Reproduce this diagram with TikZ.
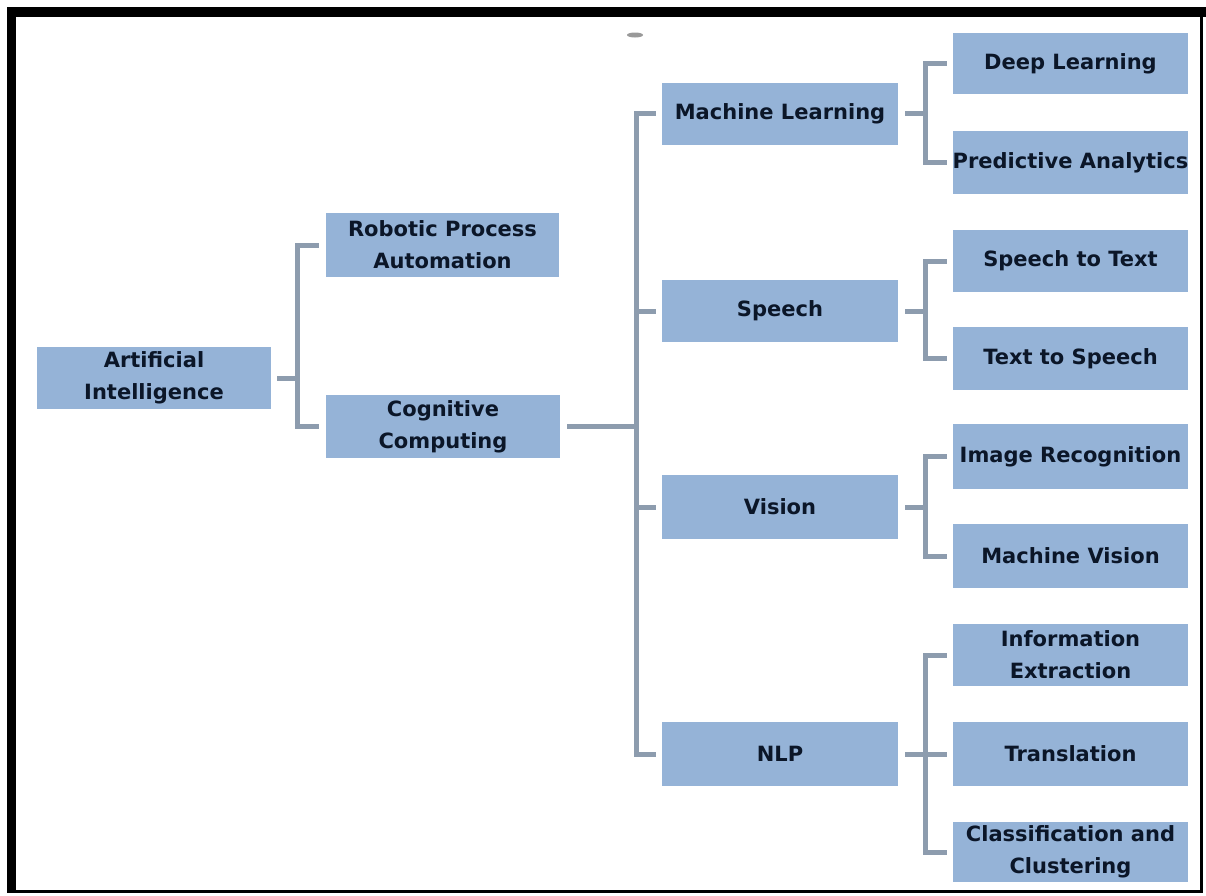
\documentclass[tikz,border=0pt]{standalone}
\usepackage{fontspec}
\setmainfont{DejaVu Sans}
\definecolor{boxfill}{HTML}{95B3D7}
\definecolor{connc}{HTML}{8D9CAE}
\definecolor{txtc}{HTML}{0B1628}
\tikzset{
  tbox/.style={fill=boxfill, draw=none, inner sep=0pt, minimum width=235pt, minimum height=63pt,
    text=txtc, align=center, font=\bfseries\fontsize{21}{32}\selectfont},
  conn/.style={draw=connc, line width=5pt, line join=miter, line cap=butt},
  frameb/.style={fill=black}
}
\begin{document}
\begin{tikzpicture}[x=1pt,y=-1pt]
\useasboundingbox (0,0) rectangle (1206,895);
\fill[white] (0,0) rectangle (1206,895);
% frame
\fill[frameb] (7,7) rectangle (1206,17);
\fill[frameb] (7,7) rectangle (16,893);
\fill[frameb] (1200,7) rectangle (1203,893);
\fill[frameb] (7,890) rectangle (1203,893);
\fill[gray!80] (635,35) ellipse (8 and 2.5);

% level 0
\node[tbox, minimum width=234pt, minimum height=62pt] (ai) at (154,378) {Artificial\\Intelligence};
% level 1
\node[tbox, minimum width=233pt, minimum height=64pt] (rpa) at (442.5,245) {Robotic Process\\Automation};
\node[tbox, minimum width=234pt, minimum height=63pt] (cog) at (443,426.5) {Cognitive\\Computing};
% level 2
\node[tbox, minimum width=236pt, minimum height=62pt] (ml) at (780,113.5) {Machine Learning};
\node[tbox, minimum width=236pt, minimum height=62pt] (sp) at (780,311) {Speech};
\node[tbox, minimum width=236pt, minimum height=64pt] (vi) at (780,507) {Vision};
\node[tbox, minimum width=236pt, minimum height=64pt] (nlp) at (780,754) {NLP};
% level 3
\node[tbox, minimum height=61pt] (dl) at (1070.5,63.5) {Deep Learning};
\node[tbox] (pa) at (1070.5,162.5) {Predictive Analytics};
\node[tbox, minimum height=62pt] (stt) at (1070.5,261) {Speech to Text};
\node[tbox] (tts) at (1070.5,358.5) {Text to Speech};
\node[tbox, minimum height=65pt] (ir) at (1070.5,456.5) {Image Recognition};
\node[tbox, minimum height=64pt] (mv) at (1070.5,556) {Machine Vision};
\node[tbox, minimum height=62pt] (ie) at (1070.5,655) {Information\\Extraction};
\node[tbox, minimum height=64pt] (tr) at (1070.5,754) {Translation};
\node[tbox, minimum height=60pt] (cc) at (1070.5,852) {Classification and\\Clustering};

% connectors level 0 -> 1
\coordinate (j1) at ([xshift=26pt]ai.east);
\draw[conn] ([xshift=6pt]ai.east) -- (j1);
\draw[conn] ([xshift=-7pt]rpa.west) -| (j1) |- ([xshift=-7pt]cog.west);
% level 1 -> 2
\coordinate (j2) at ([xshift=76pt]cog.east);
\draw[conn] ([xshift=7pt]cog.east) -- (j2);
\draw[conn] ([xshift=-6pt]ml.west) -| (j2) |- ([xshift=-6pt]nlp.west);
\draw[conn] ([xshift=-6pt]sp.west) -- (j2 |- sp.west);
\draw[conn] ([xshift=-6pt]vi.west) -- (j2 |- vi.west);
% level 2 -> 3
\coordinate (jml) at ([xshift=27pt]ml.east);
\draw[conn] ([xshift=7pt]ml.east) -- (jml);
\draw[conn] ([xshift=-6pt]dl.west) -| (jml) |- ([xshift=-6pt]pa.west);
\coordinate (jsp) at ([xshift=27pt]sp.east);
\draw[conn] ([xshift=7pt]sp.east) -- (jsp);
\draw[conn] ([xshift=-6pt]stt.west) -| (jsp) |- ([xshift=-6pt]tts.west);
\coordinate (jvi) at ([xshift=27pt]vi.east);
\draw[conn] ([xshift=7pt]vi.east) -- (jvi);
\draw[conn] ([xshift=-6pt]ir.west) -| (jvi) |- ([xshift=-6pt]mv.west);
\coordinate (jnlp) at ([xshift=27pt]nlp.east);
\draw[conn] ([xshift=7pt]nlp.east) -- (jnlp);
\draw[conn] ([xshift=-6pt]ie.west) -| (jnlp) |- ([xshift=-6pt]cc.west);
\draw[conn] ([xshift=-6pt]tr.west) -- (jnlp |- tr.west);
\end{tikzpicture}
\end{document}
